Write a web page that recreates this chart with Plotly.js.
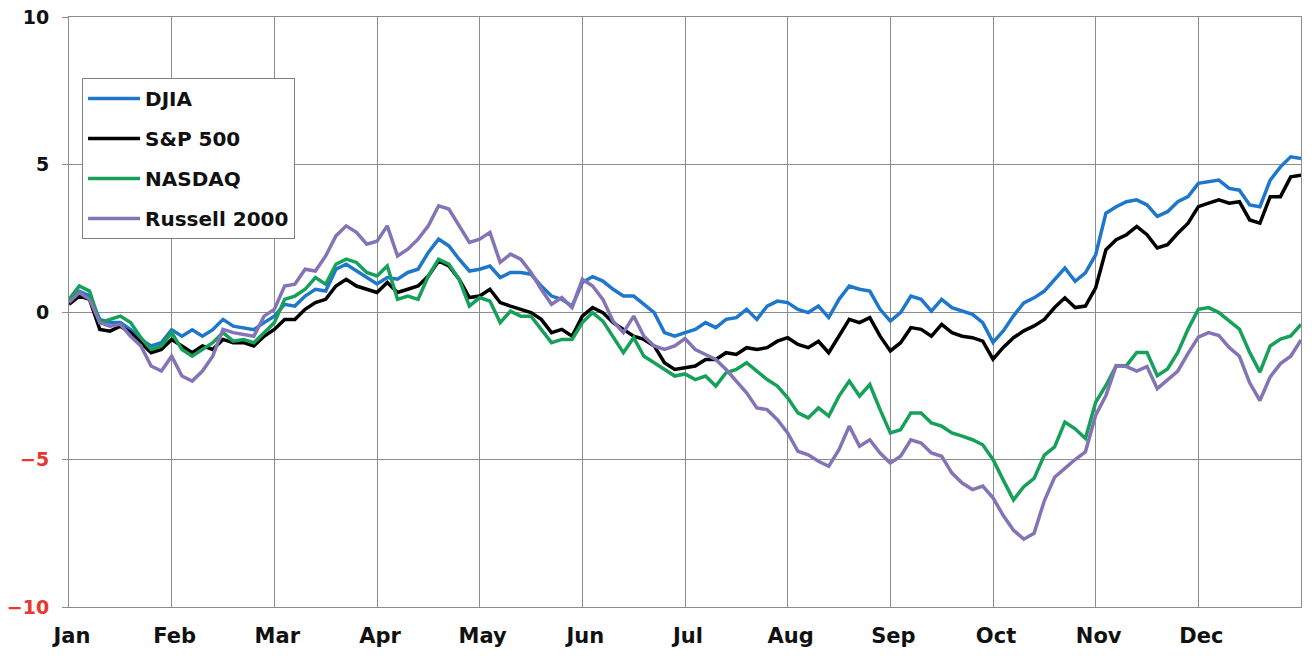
<!DOCTYPE html>
<html>
<head>
<meta charset="utf-8">
<script src="https://cdn.plot.ly/plotly-3.0.1.min.js"></script>
<style>html,body{margin:0;padding:0;background:#fff;}#chart{width:1312px;height:656px;}</style>
</head>
<body>
<div id="chart"></div>
<script>
// Month labels (tick positions at the start of each month)
const months = ["Jan","Feb","Mar","Apr","May","Jun","Jul","Aug","Sep","Oct","Nov","Dec"];
const monthTicks = [0,1,2,3,4,5,6,7,8,9,10,11];

// Y tick values and labels (negative ones drawn in red)
const yTickVals = [-10,-5,0,5,10];
const yTickLabels = ["−10","−5","0","5","10"];

// Sample positions in months since Jan 1 (every tenth of a month)
const monthPos = Array.from({length:121}, (_, k) => k / 10);

// Year-to-date % change
const djia = [
 0.4,0.7,0.55,-0.25,-0.36,-0.36,-0.6,-0.93,-1.15,-1.04,
 -0.6,-0.82,-0.6,-0.82,-0.6,-0.25,-0.48,-0.53,-0.6,-0.36,
 -0.14,0.26,0.2,0.54,0.77,0.71,1.45,1.62,1.39,1.17,
 0.95,1.17,1.11,1.34,1.45,2.02,2.47,2.24,1.79,1.39,
 1.45,1.56,1.17,1.34,1.34,1.28,0.88,0.54,0.43,0.2,
 1.0,1.2,1.05,0.77,0.54,0.54,0.26,-0.02,-0.7,-0.82,
 -0.7,-0.59,-0.36,-0.53,-0.25,-0.19,0.09,-0.25,0.2,0.37,
 0.32,0.09,-0.02,0.2,-0.19,0.43,0.88,0.77,0.71,0.09,
 -0.31,-0.02,0.54,0.43,0.03,0.43,0.15,0.03,-0.08,-0.36,
 -1.03,-0.64,-0.13,0.31,0.48,0.71,1.1,1.49,1.04,1.33,
 1.94,3.35,3.57,3.74,3.8,3.63,3.24,3.4,3.74,3.91,
 4.36,4.42,4.47,4.19,4.13,3.63,3.57,4.47,4.92,5.26,
 5.2];
const sp500 = [
 0.26,0.54,0.43,-0.59,-0.65,-0.48,-0.7,-1.04,-1.38,-1.27,
 -0.93,-1.15,-1.38,-1.15,-1.27,-0.93,-1.04,-1.04,-1.15,-0.82,
 -0.59,-0.25,-0.25,0.09,0.32,0.43,0.88,1.11,0.88,0.77,
 0.66,1.0,0.66,0.77,0.88,1.22,1.73,1.56,1.11,0.49,
 0.54,0.77,0.32,0.2,0.09,-0.02,-0.25,-0.7,-0.59,-0.82,
 -0.14,0.15,-0.02,-0.36,-0.59,-0.82,-0.93,-1.15,-1.72,-1.95,
 -1.89,-1.83,-1.61,-1.61,-1.38,-1.44,-1.21,-1.27,-1.21,-0.99,
 -0.87,-1.1,-1.21,-0.99,-1.38,-0.82,-0.25,-0.36,-0.19,-0.82,
 -1.32,-1.04,-0.53,-0.59,-0.82,-0.42,-0.7,-0.82,-0.87,-0.99,
 -1.6,-1.2,-0.87,-0.64,-0.47,-0.25,0.15,0.48,0.15,0.2,
 0.82,2.11,2.45,2.62,2.9,2.62,2.17,2.28,2.67,3.01,
 3.57,3.69,3.8,3.69,3.74,3.12,3.01,3.91,3.91,4.58,
 4.64];
const nasdaq = [
 0.43,0.88,0.71,-0.36,-0.25,-0.14,-0.36,-0.87,-1.27,-1.15,
 -0.7,-1.27,-1.5,-1.27,-1.04,-0.7,-0.99,-0.93,-1.04,-0.7,
 -0.36,0.43,0.54,0.77,1.17,0.94,1.62,1.79,1.68,1.34,
 1.22,1.56,0.43,0.54,0.43,1.22,1.79,1.62,1.11,0.2,
 0.49,0.37,-0.36,0.03,-0.14,-0.14,-0.59,-1.04,-0.93,-0.93,
 -0.36,-0.02,-0.31,-0.82,-1.38,-0.87,-1.5,-1.72,-1.95,-2.17,
 -2.1,-2.29,-2.17,-2.51,-2.06,-1.95,-1.72,-2.0,-2.29,-2.51,
 -2.91,-3.42,-3.59,-3.25,-3.53,-2.85,-2.34,-2.85,-2.46,-3.31,
 -4.1,-3.99,-3.42,-3.42,-3.76,-3.87,-4.1,-4.21,-4.33,-4.5,
 -5.0,-5.7,-6.37,-5.92,-5.64,-4.85,-4.57,-3.73,-3.96,-4.29,
 -3.06,-2.49,-1.82,-1.82,-1.37,-1.37,-2.16,-1.93,-1.37,-0.58,
 0.09,0.15,-0.02,-0.3,-0.58,-1.37,-2.04,-1.15,-0.92,-0.81,
 -0.42];
const russell2000 = [
 0.32,0.66,0.43,-0.36,-0.48,-0.42,-0.82,-1.15,-1.83,-2.0,
 -1.5,-2.17,-2.34,-2.0,-1.5,-0.59,-0.7,-0.76,-0.82,-0.14,
 0.09,0.88,0.94,1.45,1.39,1.9,2.58,2.92,2.7,2.3,
 2.4,2.92,1.9,2.13,2.47,2.92,3.6,3.49,2.92,2.36,
 2.47,2.7,1.68,1.96,1.79,1.34,0.77,0.26,0.49,0.15,
 1.11,0.88,0.43,-0.31,-0.7,-0.14,-0.82,-1.15,-1.27,-1.15,
 -0.9,-1.27,-1.44,-1.61,-1.95,-2.34,-2.74,-3.25,-3.31,-3.65,
 -4.1,-4.72,-4.84,-5.06,-5.23,-4.67,-3.87,-4.55,-4.33,-4.78,
 -5.12,-4.89,-4.33,-4.44,-4.78,-4.89,-5.46,-5.8,-6.02,-5.9,
 -6.3,-6.9,-7.4,-7.7,-7.5,-6.4,-5.6,-5.3,-5.0,-4.74,
 -3.5,-2.83,-1.82,-1.85,-2.0,-1.85,-2.6,-2.3,-2.0,-1.4,
 -0.85,-0.7,-0.8,-1.2,-1.5,-2.4,-3.0,-2.2,-1.75,-1.5,
 -0.95];

const seriesNames = ["DJIA","S&P 500","NASDAQ","Russell 2000"];
const seriesValues = [djia, sp500, nasdaq, russell2000];
const seriesColors = ["#1f77c9","#000000","#16a05a","#8474b6"];

const traces = seriesValues.map((vals, i) => ({
  type: "scatter",
  mode: "lines",
  name: seriesNames[i],
  legendgroup: "g" + i,
  x: monthPos,
  y: vals,
  line: {color: seriesColors[i], width: 3.5},
  hoverinfo: "skip"
}));

const gridCol = "#8c8c8c";
const layout = {
  width: 1312, height: 656,
  margin: {l: 69, r: 11, t: 17, b: 49, pad: 0},
  paper_bgcolor: "#ffffff",
  plot_bgcolor: "#ffffff",
  font: {family: "DejaVu Sans", size: 20, color: "#111111", weight: "bold"},
  showlegend: true,
  legend: {
    x: 0.0106, y: 0.8966, xanchor: "left", yanchor: "top",
    bgcolor: "#ffffff", bordercolor: "#808080", borderwidth: 1,
    font: {family: "DejaVu Sans", size: 20, color: "#111111", weight: "bold"},
    tracegroupgap: 11, itemwidth: 52
  },
  xaxis: {
    range: [0, 12],
    tickmode: "array", tickvals: monthTicks, ticktext: months,
    showgrid: true, gridcolor: gridCol, gridwidth: 1,
    showline: true, mirror: true, linecolor: gridCol, linewidth: 1,
    ticks: "", zeroline: false,
    tickfont: {family: "DejaVu Sans", size: 21, color: "#111111", weight: "bold"},
    ticklabelstandoff: 10, ticklabelshift: 3,
    fixedrange: true
  },
  yaxis: {
    range: [-10, 10],
    tickmode: "array", tickvals: yTickVals,
    ticktext: yTickLabels.map((t, i) => yTickVals[i] < 0 ? '<span style="color:#e8372c">' + t + '</span>' : t),
    showgrid: true, gridcolor: gridCol, gridwidth: 1,
    showline: true, mirror: true, linecolor: gridCol, linewidth: 1,
    ticks: "outside", ticklen: 6, tickcolor: gridCol, tickwidth: 1,
    zeroline: false,
    tickfont: {family: "DejaVu Sans", size: 19, color: "#111111", weight: "bold"},
    ticklabelstandoff: 9,
    fixedrange: true
  }
};

Plotly.newPlot("chart", traces, layout, {displayModeBar: false, staticPlot: true});
</script>
</body>
</html>
